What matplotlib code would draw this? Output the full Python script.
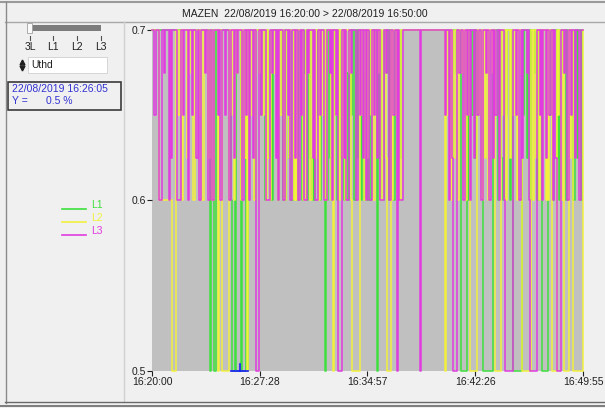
import numpy as np
import matplotlib.pyplot as plt
from matplotlib.patches import Rectangle

plt.rcParams['font.family'] = ['Liberation Sans', 'DejaVu Sans']

# levels in tenths of %, one sample ~5 s from 16:20:00 to 16:49:55 (30 per row)
l1 = [7,7,7,7,7,7,7,7,7,7,7,7,7,7,7,7,7,7,7,7,7,7,7,7,7,7,7,7,7,7,
      7,7,7,7,7,7,7,7,7,7,7,7,7,7,7,7,7,7,5,7,7,7,5,7,7,7,7,7,7,7,
      7,7,7,7,7,7,6,5,5,7,5,5,5,5,7,5,5,5,7,5,6,7,7,7,7,7,6,7,7,7,
      7,6.5,7,7,6,7,7,6.25,6,7,6,7,7,6.75,7,6,7,7,6.5,6,7,6,7,7,6.25,7,6,6,7,6.5,
      7,6,7,7,6.5,6,7,6.75,7,6,7,7,6.25,6,7,6,7,7,6.5,7,6,7,7,6.75,5,7,6,7,6.25,6,
      7,6.5,7,7,6,6,7,6.25,7,7,6,7,6.75,6,7,7,6.5,7,6,6,7,6.25,7,7,6,7,6.75,6,7,6,
      7,6,7,7,6.5,7,7,5,7,6.25,7,6,6,7,7,6.75,7,6,7,7,6.5,6,7,7,7,7,6.25,7,7,7,
      7,7,7,7,7,7,7,7,7,7,7,7,7,7,7,7,7,7,7,7,7,7,7,7,7,7,7,7,7,7,
      7,7,7,7,7,7,7,6.5,7,7,6.25,7,7,6.75,7,7,7,5,5,5,5,5,7,6,7,7,6.5,7,7,6.25,
      7,6.5,7,7,7,6,5,5,5,5,5,5,5,5,7,6.75,7,7,6,7,7,6.25,6,7,7,6.5,7,7,6,7,
      7,5,5,5,5,5,5,5,7,6.5,7,7,6.25,7,7,6,7,7,6.75,7,7,6,7,7,7,5,5,5,5,5,
      7,6.5,7,7,6,7,7,6.25,7,6,7,7,6.75,7,7,6,7,7,6.5,7,7,6,7,7,6.25,7,7,6,7,7]

l2 = [7,7,7,7,7,7,6,6,6,6,6,6,6,6,6,6,6,5,5,5,7,7,6.5,7,7,6,7,7,7,6.25,
      7,6.75,7,7,6,6,7,7,7,6.5,7,7,6,7,7,7,7,6.25,7,7,6,6,7,7,7,5,7,7,5,5,
      5,5,5,5,7,7,6.5,7,6,7,7,6.75,7,7,6,7,7,6.25,7,5,7,7,6.5,7,7,6,6,7,7,6.75,
      7,7,6.5,7,7,6,7,6.25,6,7,7,7,6.75,7,7,6,7,6.5,7,7,6,6,7,7,6.25,7,7,7,6,7,
      6,7,7,6.5,7,7,6,6,7,7,6.75,7,6,7,7,7,6.25,7,7,6,7,7,6.5,7,6,6,7,7,7,6,
      7,5,7,6.5,7,7,6,7,6.25,7,7,6,7,7,6.75,7,6,5,5,5,5,5,5,7,6.5,7,7,6,7,6.25,
      7,7,6.5,7,6,6,7,7,6.75,7,7,6,7,7,7,6.25,5,5,5,7,6,7,7,6.5,7,7,6,7,7,7,
      7,7,7,7,7,7,7,7,7,7,7,7,7,7,7,7,7,7,7,7,7,7,7,7,7,7,7,7,7,7,
      7,7,7,7,5,7,6.5,7,7,6,7,6.25,7,7,6,6,7,7,6.75,7,7,6,7,7,6.5,5,5,5,5,5,
      5,7,6.5,7,7,6,7,6.25,7,7,6,7,7,6.75,7,7,5,5,5,5,5,7,6.5,7,7,6,7,7,6.25,7,
      7,6.5,7,7,6,7,7,6.75,5,5,5,5,5,5,5,5,7,6,7,7,6.25,7,6,7,7,6.5,7,7,6,7,
      6,7,7,5,5,5,5,7,6.5,7,7,6,7,5,5,5,5,7,6.25,7,7,5,5,5,5,5,5,5,5,7]

l3 = [7,7,6.5,7,7,7,6,6,7,7,6.75,7,7,7,6,7,6.25,7,7,7,7,6,6,6,7,7,6.5,7,7,7,
      6,7,7,6.5,7,7,7,6.25,7,6,6,7,7,7,6.75,7,7,6,7,7,6,6,7,7,7,6.5,7,6,7,7,
      7,6.5,7,7,6,6,7,7,6.25,7,7,6.75,7,7,7,6,6,7,6.5,7,7,6,7,7,6.25,7,7,5,5,7,
      7,6.5,7,7,7,6,6,6,7,7,6.75,7,7,6.25,7,6,7,7,7,6,6,7,7,6.5,7,6,6,7,7,6.25,
      7,7,6,7,6.5,7,7,6,6,7,6.75,7,7,7,6.25,7,6,6,7,7,6.5,7,7,6,6,6,7,7,6.75,7,
      6,7,7,6.5,7,5,5,5,7,7,6.25,7,6,6,7,7,6.75,7,7,7,6,6,7,6.5,7,7,6.25,7,6,7,
      7,6,6,7,7,6.5,7,6.25,7,7,6,6,6,7,7,6.75,7,6,6,7,7,6.5,7,7,5,7,6,6,6,7,
      7,7,7,7,7,7,7,7,7,7,7,7,7,5,7,7,7,7,7,7,7,7,7,7,7,7,7,7,7,7,
      7,7,7,7,6.5,7,7,6,7,7,6.25,5,5,5,7,7,6.75,7,7,6,6,7,6.5,7,7,6,7,7,6.25,7,
      7,6.5,7,7,6,6,7,7,6.75,7,7,6,7,7,6.25,7,6.5,7,7,6,7,7,7,6,5,5,5,5,5,5,
      5,7,7,6.5,7,7,6,7,6.25,7,7,7,6.75,7,6,5,5,5,5,5,5,7,7,6.5,7,6,7,7,6.25,7,
      7,6.5,7,7,6,7,6.25,5,5,5,5,7,7,6.75,7,7,6,7,7,6.5,7,7,6.25,7,7,7,6,7,7,7]

series_names = ['L1', 'L2', 'L3']
series_colors = ['#3ee03e', '#f2f03c', '#e03ce0']
x_ticks = [0, 448, 897, 1346, 1795]
x_labels = ['16:20:00', '16:27:28', '16:34:57', '16:42:26', '16:49:55']
y_ticks = [0.5, 0.6, 0.7]
cursor_t, cursor_y = 365, 0.5

W, H = 605, 408
fig = plt.figure(figsize=(W / 100, H / 100), dpi=100)
fig.patch.set_facecolor('#f0f0f0')

# background "window" drawn in pixel coords
bg = fig.add_axes([0, 0, 1, 1], zorder=0)
bg.set_xlim(0, W)
bg.set_ylim(H, 0)
bg.axis('off')
bg.plot([0, W], [1.5, 1.5], color='#9a9a9a', lw=1.5)
bg.plot([5, W], [21.5, 21.5], color='#a8a8a8', lw=1)
bg.plot([5.5, 5.5], [2, 403], color='#8a8a8a', lw=1)
bg.plot([123.5, 123.5], [22, 402], color='#d0d0d0', lw=1)
bg.plot([5, W], [402, 402], color='#6a6a6a', lw=1)
bg.plot([0, W], [405.5, 405.5], color='#6a6a6a', lw=1.2)
bg.text(305, 14, 'MAZEN  22/08/2019 16:20:00 > 22/08/2019 16:50:00',
        ha='center', va='center', fontsize=7.5, color='#202020')

# slider
bg.add_patch(Rectangle((32, 25), 69, 6, facecolor='#7c7c7c', edgecolor='none'))
bg.add_patch(Rectangle((27, 23), 5, 10, facecolor='#fafafa', edgecolor='#a0a0a0', lw=0.6))
for xt, lab in zip([30, 53, 77, 101], ['3L', 'L1', 'L2', 'L3']):
    bg.plot([xt, xt], [36, 40], color='#505050', lw=0.8)
    bg.text(xt, 47, lab, ha='center', va='center', fontsize=7.5, color='#202020')

# selector box
bg.add_patch(Rectangle((28, 57), 79, 16, facecolor='white', edgecolor='#d0d0d0', lw=0.6))
bg.plot([22], [62], marker='^', color='#202020', markersize=3.5)
bg.plot([22], [68], marker='v', color='#202020', markersize=3.5)
bg.text(31, 65, 'Uthd', ha='left', va='center', fontsize=7.5, color='#202020')

# cursor info box
bg.add_patch(Rectangle((7.5, 81.5), 113, 28, facecolor='#f0f0f0', edgecolor='#3a3a3a', lw=1.2))
bg.text(12, 89, '22/08/2019 16:26:05', ha='left', va='center', fontsize=7.5, color='#3232d2')
bg.text(12, 101, 'Y =', ha='left', va='center', fontsize=7.5, color='#3232d2')
bg.text(46, 101, '0.5 %', ha='left', va='center', fontsize=7.5, color='#3232d2')

# legend
for k, (name, col) in enumerate(zip(series_names, series_colors)):
    yy = 209 + k * 13
    bg.plot([62, 86], [yy, yy], color=col, lw=1.2)
    bg.text(91, yy - 4, name, ha='left', va='center', fontsize=7.5, color=col)

# chart
ax = fig.add_axes([152 / W, 1 - 371 / H, (583 - 152) / W, (371 - 30) / H], zorder=1)
ax.set_facecolor('#c0c0c0')
t = np.linspace(0, 1795, len(l1))
for vals, col in zip([l1, l2, l3], series_colors):
    ax.step(t, np.array(vals) / 10, where='post', color=col, lw=1.1, clip_on=False)

ax.plot([cursor_t - 35, cursor_t + 35], [cursor_y, cursor_y], color='#1a1aff', lw=1.2, clip_on=False)
ax.plot([cursor_t, cursor_t], [cursor_y, cursor_y + 0.004], color='#1a1aff', lw=1.2, clip_on=False)

ax.set_xlim(0, 1795)
ax.set_ylim(0.5, 0.7)
ax.set_xticks(x_ticks)
ax.set_xticklabels(x_labels)
ax.set_yticks(y_ticks)
ax.set_yticklabels(['%.1f' % v for v in y_ticks])
ax.tick_params(axis='both', labelsize=7.5, colors='#202020', length=3.5, width=0.8, pad=1)
for s in ax.spines.values():
    s.set_visible(False)

fig.savefig('out.png', dpi=100, facecolor=fig.get_facecolor())
